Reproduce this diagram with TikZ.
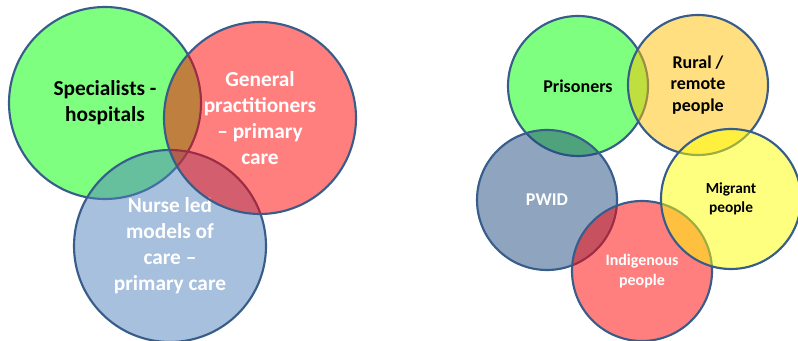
\documentclass[tikz,border=0pt]{standalone}
\usepackage{fontspec}
\setmainfont{Carlito}
\usetikzlibrary{positioning}
\definecolor{ringblue}{RGB}{56, 93, 138}
\definecolor{setgreen}{RGB}{0, 255, 0}
\definecolor{setred}{RGB}{255, 0, 0}
\definecolor{setblue}{RGB}{79, 129, 189}
\definecolor{setgold}{RGB}{255, 192, 0}
\definecolor{setnavy}{RGB}{31, 73, 125}
\definecolor{setyellow}{RGB}{255, 255, 0}

\tikzset{
    setcircle/.style={circle, draw=ringblue, line width=1.6pt, fill opacity=0.5, text opacity=1, align=center, inner sep=0pt},
    bigset/.style={setcircle, minimum size=144pt, font=\bfseries\fontsize{16}{19.5}\selectfont},
    smallset/.style={setcircle, minimum size=105pt, font=\bfseries\fontsize{13.5}{16.3}\selectfont},
}

\begin{document}
\begin{tikzpicture}[x=0.75pt, y=-0.75pt]
    \useasboundingbox (0,0) rectangle (798,341);

    % care settings
    \node[bigset, fill=setgreen] (specialists) at (105,103) {Specialists -\\hospitals};
    \node[bigset, fill=setblue, text=white] (nurse) at (170,246) {Nurse led\\models of\\care --\\primary care};
    \node[bigset, fill=setred, text=white] (gp) at (260,118) {General\\practitioners\\-- primary\\care};

    % priority populations
    \node[smallset, fill=setgreen] (prisoners) at (578,86) {Prisoners};
    \node[smallset, fill=setgold] (rural) at (698,85) {Rural /\\remote\\people};
    \node[smallset, fill=setnavy, text=white] (pwid) at (547,200) {PWID};
    \node[smallset, fill=setred, text=white, font=\bfseries\fontsize{12}{15}\selectfont] (indigenous) at (642,271) {Indigenous\\people};
    \node[smallset, fill=setyellow, font=\bfseries\fontsize{11.5}{13.8}\selectfont] (migrant) at (731,199) {Migrant\\people};
\end{tikzpicture}
\end{document}
